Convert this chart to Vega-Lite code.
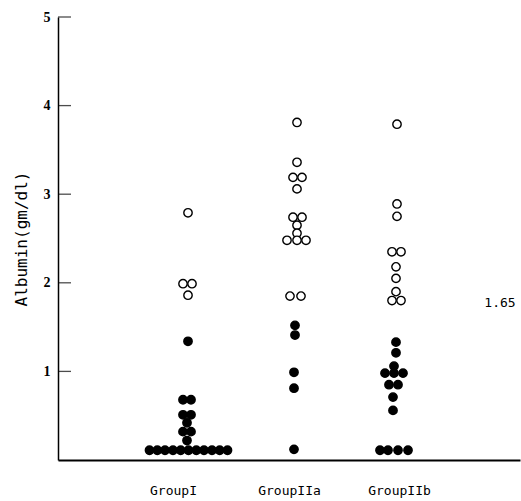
{
  "$schema": "https://vega.github.io/schema/vega-lite/v6.json",
  "width": 462,
  "height": 443,
  "autosize": "none",
  "padding": {"left": 58, "top": 17, "right": 1, "bottom": 41},
  "background": "white",
  "config": {"view": {"stroke": null}, "axis": {"grid": false}},
  "datasets": {
    "pts": [
      {"group": "I", "x": 1.30, "y": 2.79, "kind": "open"},
      {"group": "I", "x": 1.25, "y": 1.99, "kind": "open"},
      {"group": "I", "x": 1.34, "y": 1.99, "kind": "open"},
      {"group": "I", "x": 1.30, "y": 1.86, "kind": "open"},
      {"group": "I", "x": 1.30, "y": 1.34, "kind": "filled"},
      {"group": "I", "x": 1.25, "y": 0.68, "kind": "filled"},
      {"group": "I", "x": 1.33, "y": 0.68, "kind": "filled"},
      {"group": "I", "x": 1.25, "y": 0.51, "kind": "filled"},
      {"group": "I", "x": 1.33, "y": 0.51, "kind": "filled"},
      {"group": "I", "x": 1.29, "y": 0.42, "kind": "filled"},
      {"group": "I", "x": 1.25, "y": 0.32, "kind": "filled"},
      {"group": "I", "x": 1.33, "y": 0.32, "kind": "filled"},
      {"group": "I", "x": 1.29, "y": 0.22, "kind": "filled"},
      {"group": "I", "x": 0.915, "y": 0.11, "kind": "filled"},
      {"group": "I", "x": 0.993, "y": 0.11, "kind": "filled"},
      {"group": "I", "x": 1.07, "y": 0.11, "kind": "filled"},
      {"group": "I", "x": 1.15, "y": 0.11, "kind": "filled"},
      {"group": "I", "x": 1.227, "y": 0.11, "kind": "filled"},
      {"group": "I", "x": 1.305, "y": 0.11, "kind": "filled"},
      {"group": "I", "x": 1.383, "y": 0.11, "kind": "filled"},
      {"group": "I", "x": 1.46, "y": 0.11, "kind": "filled"},
      {"group": "I", "x": 1.54, "y": 0.11, "kind": "filled"},
      {"group": "I", "x": 1.617, "y": 0.11, "kind": "filled"},
      {"group": "I", "x": 1.695, "y": 0.11, "kind": "filled"},
      {"group": "IIa", "x": 2.39, "y": 3.81, "kind": "open"},
      {"group": "IIa", "x": 2.39, "y": 3.36, "kind": "open"},
      {"group": "IIa", "x": 2.35, "y": 3.19, "kind": "open"},
      {"group": "IIa", "x": 2.44, "y": 3.19, "kind": "open"},
      {"group": "IIa", "x": 2.39, "y": 3.06, "kind": "open"},
      {"group": "IIa", "x": 2.35, "y": 2.74, "kind": "open"},
      {"group": "IIa", "x": 2.44, "y": 2.74, "kind": "open"},
      {"group": "IIa", "x": 2.39, "y": 2.65, "kind": "open"},
      {"group": "IIa", "x": 2.39, "y": 2.56, "kind": "open"},
      {"group": "IIa", "x": 2.29, "y": 2.48, "kind": "open"},
      {"group": "IIa", "x": 2.39, "y": 2.48, "kind": "open"},
      {"group": "IIa", "x": 2.48, "y": 2.48, "kind": "open"},
      {"group": "IIa", "x": 2.32, "y": 1.85, "kind": "open"},
      {"group": "IIa", "x": 2.43, "y": 1.85, "kind": "open"},
      {"group": "IIa", "x": 2.37, "y": 1.52, "kind": "filled"},
      {"group": "IIa", "x": 2.37, "y": 1.41, "kind": "filled"},
      {"group": "IIa", "x": 2.36, "y": 0.99, "kind": "filled"},
      {"group": "IIa", "x": 2.36, "y": 0.81, "kind": "filled"},
      {"group": "IIa", "x": 2.36, "y": 0.12, "kind": "filled"},
      {"group": "IIb", "x": 3.39, "y": 3.79, "kind": "open"},
      {"group": "IIb", "x": 3.39, "y": 2.89, "kind": "open"},
      {"group": "IIb", "x": 3.39, "y": 2.75, "kind": "open"},
      {"group": "IIb", "x": 3.34, "y": 2.35, "kind": "open"},
      {"group": "IIb", "x": 3.43, "y": 2.35, "kind": "open"},
      {"group": "IIb", "x": 3.38, "y": 2.18, "kind": "open"},
      {"group": "IIb", "x": 3.38, "y": 2.05, "kind": "open"},
      {"group": "IIb", "x": 3.38, "y": 1.90, "kind": "open"},
      {"group": "IIb", "x": 3.34, "y": 1.80, "kind": "open"},
      {"group": "IIb", "x": 3.43, "y": 1.80, "kind": "open"},
      {"group": "IIb", "x": 3.38, "y": 1.33, "kind": "filled"},
      {"group": "IIb", "x": 3.38, "y": 1.21, "kind": "filled"},
      {"group": "IIb", "x": 3.36, "y": 1.06, "kind": "filled"},
      {"group": "IIb", "x": 3.27, "y": 0.98, "kind": "filled"},
      {"group": "IIb", "x": 3.36, "y": 0.98, "kind": "filled"},
      {"group": "IIb", "x": 3.45, "y": 0.98, "kind": "filled"},
      {"group": "IIb", "x": 3.31, "y": 0.85, "kind": "filled"},
      {"group": "IIb", "x": 3.40, "y": 0.85, "kind": "filled"},
      {"group": "IIb", "x": 3.35, "y": 0.71, "kind": "filled"},
      {"group": "IIb", "x": 3.35, "y": 0.56, "kind": "filled"},
      {"group": "IIb", "x": 3.22, "y": 0.11, "kind": "filled"},
      {"group": "IIb", "x": 3.30, "y": 0.11, "kind": "filled"},
      {"group": "IIb", "x": 3.40, "y": 0.11, "kind": "filled"},
      {"group": "IIb", "x": 3.50, "y": 0.11, "kind": "filled"}
    ],
    "notes": [
      {"x": 4.42, "y": 1.77, "label": "1.65"}
    ]
  },
  "layer": [
    {
      "data": {"values": [{"v": 1}, {"v": 2}, {"v": 3}, {"v": 4}, {"v": 5}]},
      "mark": {"type": "tick", "orient": "horizontal", "color": "black", "thickness": 1.3, "size": 13, "xOffset": 6.5},
      "encoding": {
        "y": {"field": "v", "type": "quantitative"},
        "x": {"datum": 0}
      }
    },
    {
      "data": {"name": "pts"},
      "mark": {"type": "point", "shape": "circle", "size": 70, "filled": true, "stroke": "black", "strokeWidth": 1.4, "opacity": 1},
      "encoding": {
        "x": {
          "field": "x", "type": "quantitative",
          "scale": {"domain": [0, 4.62], "nice": false, "zero": false},
          "axis": {
            "title": null,
            "values": [1.15, 2.31, 3.41],
            "labelExpr": "datum.value < 1.5 ? 'GroupI' : (datum.value < 3 ? 'GroupIIa' : 'GroupIIb')",
            "ticks": false,
            "domainColor": "black",
            "domainWidth": 2,
            "labelPadding": 24,
            "labelFont": "DejaVu Sans Mono",
            "labelFontSize": 13,
            "labelColor": "black"
          }
        },
        "y": {
          "field": "y", "type": "quantitative",
          "scale": {"domain": [0, 5], "nice": false, "zero": true},
          "axis": {
            "title": "Albumin(gm/dl)",
            "titleFont": "DejaVu Sans Mono",
            "titleFontSize": 16,
            "titleFontWeight": "normal",
            "titleColor": "black",
            "titlePadding": 14,
            "values": [1, 2, 3, 4, 5],
            "format": "d",
            "ticks": false,
            "domainColor": "black",
            "domainWidth": 1.5,
            "labelPadding": 8,
            "labelFont": "Liberation Serif",
            "labelFontWeight": "bold",
            "labelFontSize": 14,
            "labelColor": "black"
          }
        },
        "fill": {
          "field": "kind", "type": "nominal",
          "scale": {"domain": ["open", "filled"], "range": ["white", "black"]},
          "legend": null
        }
      }
    },
    {
      "data": {"name": "notes"},
      "mark": {"type": "text", "font": "DejaVu Sans Mono", "fontSize": 13, "color": "black", "align": "center", "baseline": "middle"},
      "encoding": {
        "x": {"field": "x", "type": "quantitative"},
        "y": {"field": "y", "type": "quantitative"},
        "text": {"field": "label"}
      }
    }
  ]
}
